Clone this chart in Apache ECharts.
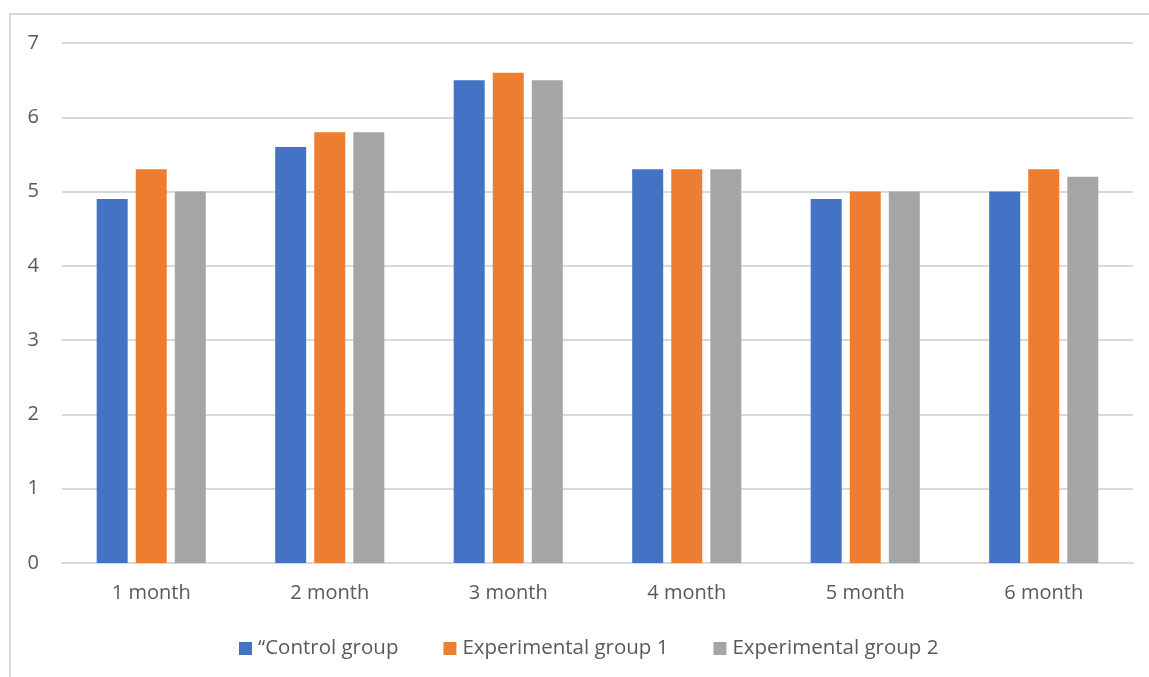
<!DOCTYPE html>
<html>
<head>
<meta charset="utf-8">
<script src="https://cdn.jsdelivr.net/npm/echarts@6/dist/echarts.min.js"></script>
<style>
  html, body { margin: 0; padding: 0; background: #ffffff; }
  #frame { position: absolute; left: 9px; top: 13px; width: 1160px; height: 700px;
           border-left: 2px solid #d9d9d9; border-top: 2px solid #d9d9d9; }
  #chart { position: absolute; left: 0; top: 0; width: 1149px; height: 677px; }
</style>
</head>
<body>
<div id="frame"></div>
<div id="chart"></div>
<script>
// Monthly scores for the three groups
const months = ['1 month', '2 month', '3 month', '4 month', '5 month', '6 month'];
const controlGroup = [4.9, 5.6, 6.5, 5.3, 4.9, 5.0];
const experimentalGroup1 = [5.3, 5.8, 6.6, 5.3, 5.0, 5.3];
const experimentalGroup2 = [5.0, 5.8, 6.5, 5.3, 5.0, 5.2];
const yTicks = [0, 1, 2, 3, 4, 5, 6, 7];

const font = 'Open Sans';
const textColor = '#595959';

const chart = echarts.init(document.getElementById('chart'), null, { renderer: 'canvas' });

function barSeries(name, data, color) {
  return {
    name: name,
    type: 'bar',
    data: data,
    barWidth: 31,
    barGap: '26%',
    itemStyle: { color: color },
    animation: false
  };
}

chart.setOption({
  animation: false,
  textStyle: { fontFamily: font },
  grid: { left: 62, right: 16, top: 43, bottom: 114, containLabel: false },
  legend: {
    top: 633,
    left: 234,
    itemWidth: 13,
    itemHeight: 13,
    itemGap: 45,
    icon: 'rect',
    textStyle: { fontFamily: font, fontSize: 20.5, color: textColor, padding: [0, 0, 0, 1] },
    data: ['\u201cControl group', 'Experimental group 1', 'Experimental group 2']
  },
  xAxis: {
    type: 'category',
    data: months,
    axisLine: { lineStyle: { color: '#d9d9d9', width: 2 } },
    axisTick: { show: false },
    axisLabel: { fontFamily: font, fontSize: 20, color: textColor, margin: 20 }
  },
  yAxis: {
    type: 'value',
    min: yTicks[0],
    max: yTicks[yTicks.length - 1],
    interval: 1,
    axisLine: { show: false },
    axisTick: { show: false },
    splitLine: { lineStyle: { color: '#d9d9d9', width: 2 } },
    axisLabel: { fontFamily: font, fontSize: 20, color: textColor, margin: 23 }
  },
  series: [
    barSeries('\u201cControl group', controlGroup, '#4472c4'),
    barSeries('Experimental group 1', experimentalGroup1, '#ed7d31'),
    barSeries('Experimental group 2', experimentalGroup2, '#a5a5a5')
  ]
});
</script>
</body>
</html>
